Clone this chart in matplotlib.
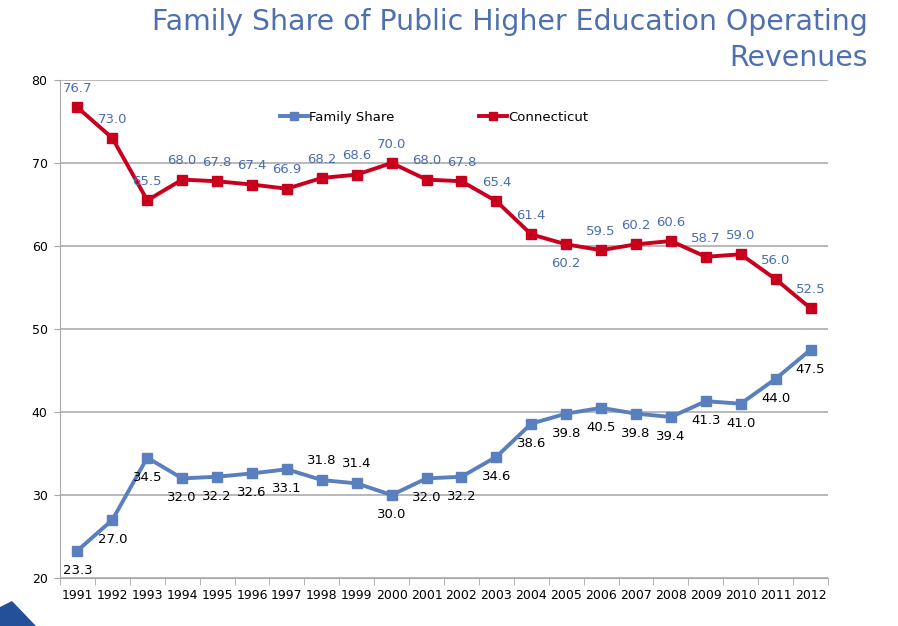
import matplotlib
matplotlib.use('Agg')
import matplotlib.pyplot as plt
from matplotlib.patches import Polygon

years = [1991, 1992, 1993, 1994, 1995, 1996, 1997, 1998, 1999, 2000, 2001,
         2002, 2003, 2004, 2005, 2006, 2007, 2008, 2009, 2010, 2011, 2012]
family_share = [23.3, 27.0, 34.5, 32.0, 32.2, 32.6, 33.1, 31.8, 31.4, 30.0, 32.0,
                32.2, 34.6, 38.6, 39.8, 40.5, 39.8, 39.4, 41.3, 41.0, 44.0, 47.5]
connecticut = [76.7, 73.0, 65.5, 68.0, 67.8, 67.4, 66.9, 68.2, 68.6, 70.0, 68.0,
               67.8, 65.4, 61.4, 60.2, 59.5, 60.2, 60.6, 58.7, 59.0, 56.0, 52.5]

# label side: 1 = above the point, -1 = below
family_side = [-1, -1, -1, -1, -1, -1, -1, 1, 1, -1, -1,
               -1, -1, -1, -1, -1, -1, -1, -1, -1, -1, -1]
conn_side = [1, 1, 1, 1, 1, 1, 1, 1, 1, 1, 1,
             1, 1, 1, -1, 1, 1, 1, 1, 1, 1, 1]

BLUE = '#5A7FBE'
RED = '#C8001E'
LABEL_BLUE = '#4A6DB0'
GRID = '#A6A6A6'

plt.rcParams['font.family'] = ['DejaVu Sans']

fig = plt.figure(figsize=(8.98, 6.26), dpi=100)
ax = fig.add_axes([60 / 898, 48 / 626, 768 / 898, 498 / 626])

x = list(range(len(years)))
ax.plot(x, family_share, color=BLUE, lw=2.8, marker='s', ms=6.5, label='Family Share')
ax.plot(x, connecticut, color=RED, lw=2.8, marker='s', ms=6.5, label='Connecticut')

for xi, v, s in zip(x, family_share, family_side):
    ax.annotate(f'{v:.1f}', (xi, v), xytext=(0, 14 * s), textcoords='offset points',
                ha='center', va='center', fontsize=9.5, color='black')
for xi, v, s in zip(x, connecticut, conn_side):
    ax.annotate(f'{v:.1f}', (xi, v), xytext=(0, 13.5 * s), textcoords='offset points',
                ha='center', va='center', fontsize=9.5, color=LABEL_BLUE)

ax.set_xlim(-0.5, len(years) - 0.5)
ax.set_ylim(20, 80)
ax.set_yticks(range(20, 81, 10))
ax.set_xticks(x)
ax.set_xticklabels([str(y) for y in years])
ax.set_xticks([i - 0.5 for i in range(len(years) + 1)], minor=True)
ax.tick_params(axis='x', which='major', length=0, labelsize=9, pad=8)
ax.tick_params(axis='x', which='minor', length=5, color=GRID, direction='out')
ax.tick_params(axis='y', length=4, color=GRID, labelsize=9, pad=5)

ax.yaxis.grid(True, color=GRID, lw=1.1)
ax.set_axisbelow(True)
for side in ['top', 'right']:
    ax.spines[side].set_visible(False)
ax.spines['left'].set_color(GRID)
ax.spines['bottom'].set_color(GRID)

ax.legend(loc='center', bbox_to_anchor=(434 / 898, 1 - 117 / 626),
          bbox_transform=fig.transFigure, ncol=2, frameon=False,
          fontsize=9.5, handlelength=2.1, handletextpad=0.1, columnspacing=6.4,
          markerscale=0.8)

fig.text(868 / 898, 1 - 22 / 626, 'Family Share of Public Higher Education Operating',
         ha='right', va='center', fontsize=20.4, color='#4F70B0')
fig.text(868 / 898, 1 - 58 / 626, 'Revenues',
         ha='right', va='center', fontsize=20.4, color='#4F70B0')

# corner decoration
fig.patches.append(Polygon([(0, 19 / 626), (12 / 898, 25 / 626), (36 / 898, 0), (0, 0)],
                           closed=True, transform=fig.transFigure,
                           facecolor='#24509A', edgecolor='none'))

fig.savefig('out.png', dpi=100)
